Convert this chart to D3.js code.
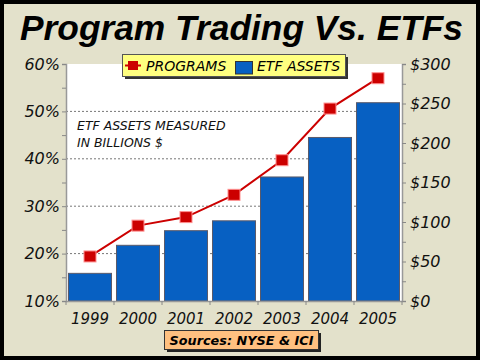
<!DOCTYPE html>
<html><head><meta charset="utf-8">
<script src="https://cdn.jsdelivr.net/npm/d3@7"></script>
<style>html,body{margin:0;padding:0;background:#e3e1cb;}svg{display:block;}</style>
</head><body>
<script>
const years = ["1999","2000","2001","2002","2003","2004","2005"];
const etfAssets = [35, 70.5, 89, 101.5, 157, 207, 251];      // $ billions (right axis)
const programs = [19.4, 25.9, 27.7, 32.4, 39.7, 50.6, 57.0];  // % (left axis)
const leftTicks = [10, 20, 30, 40, 50, 60];
const rightTicks = [0, 50, 100, 150, 200, 250, 300];

const W = 480, H = 360;
const L = 66, R = 402, T = 64, B = 301;
const svg = d3.select("body").append("svg").attr("width", W).attr("height", H);
const font = "'DejaVu Sans', Verdana, sans-serif";

// background and frame
svg.append("rect").attr("x",2).attr("y",2).attr("width",W-4).attr("height",H-4)
  .attr("fill","#e3e1cb").attr("stroke","#000").attr("stroke-width",4);

// title
svg.append("text").attr("x",20).attr("y",40)
  .attr("font-family","'Liberation Sans', Arial, sans-serif").attr("font-weight","bold")
  .attr("font-style","italic").attr("font-size",35)
  .attr("textLength",443).attr("lengthAdjust","spacingAndGlyphs")
  .attr("fill","#000").text("Program Trading Vs. ETFs");

const x = d3.scaleBand().domain(years).range([L, R]).paddingInner(0.104).paddingOuter(0.052);
const yL = d3.scaleLinear().domain([10, 60]).range([B, T]);
const yR = d3.scaleLinear().domain([0, 300]).range([B, T]);

// plot area
svg.append("rect").attr("x",L).attr("y",T).attr("width",R-L).attr("height",B-T).attr("fill","#fff");

// gridlines
svg.append("g").selectAll("line").data(leftTicks.filter(d => d > 10 && d < 60)).join("line")
  .attr("x1",L).attr("x2",R).attr("y1",d=>yL(d)).attr("y2",d=>yL(d))
  .attr("stroke","#777").attr("stroke-width",1).attr("stroke-dasharray","2,2");

// bars
svg.append("g").selectAll("rect").data(years).join("rect")
  .attr("x",d=>x(d)).attr("width",x.bandwidth())
  .attr("y",(d,i)=>yR(etfAssets[i])).attr("height",(d,i)=>B-yR(etfAssets[i]))
  .attr("fill","#0760c2").attr("stroke","#5a5a6a").attr("stroke-width",1);

// axes
const axL = d3.axisLeft(yL).tickValues(d3.range(10, 60.1, 5)).tickSize(4)
  .tickFormat(d => leftTicks.includes(d) ? d + "%" : "");
const gL = svg.append("g").attr("transform",`translate(${L},0)`).call(axL);
const axR = d3.axisRight(yR).tickValues(d3.range(0, 300.1, 25)).tickSize(4)
  .tickFormat(d => rightTicks.includes(d) ? "$" + d : "");
const gR = svg.append("g").attr("transform",`translate(${R},0)`).call(axR);
const axB = d3.axisBottom(x).tickSize(0).tickPadding(12);
const gB = svg.append("g").attr("transform",`translate(0,${B})`).call(axB);
// category boundary ticks
svg.append("g").selectAll("line").data(d3.range(years.length + 1)).join("line")
  .attr("x1",i=>L + i*x.step()).attr("x2",i=>L + i*x.step())
  .attr("y1",B).attr("y2",B+4).attr("stroke","#888");

[gL, gR, gB].forEach(g => {
  g.select(".domain").attr("stroke","#999").attr("stroke-width",1.5);
  g.selectAll(".tick line").attr("stroke","#888");
  g.selectAll("text").attr("font-family",font).attr("font-style","italic").attr("fill","#111");
});
gL.selectAll("text").attr("font-size",16).attr("x",-6);
gR.selectAll("text").attr("font-size",16).attr("x",8);
gB.selectAll("text").attr("font-size",15);

// line + markers
const line = d3.line().x((d,i)=>x(years[i]) + x.bandwidth()/2).y(d=>yL(d));
svg.append("path").datum(programs).attr("d",line)
  .attr("fill","none").attr("stroke","#cc0000").attr("stroke-width",2);
svg.append("g").selectAll("rect").data(programs).join("rect")
  .attr("x",(d,i)=>x(years[i]) + x.bandwidth()/2 - 6).attr("y",d=>yL(d) - 5.5)
  .attr("width",12).attr("height",11)
  .attr("fill","#cc0000").attr("stroke","#ff9090").attr("stroke-width",1);

// annotation
const ann = svg.append("text").attr("font-family",font).attr("font-style","italic")
  .attr("font-size",12.5).attr("fill","#111");
ann.append("tspan").attr("x",77).attr("y",130).text("ETF ASSETS MEASURED");
ann.append("tspan").attr("x",77).attr("y",147).text("IN BILLIONS $");

// legend
const lg = svg.append("g");
lg.append("rect").attr("x",125).attr("y",57).attr("width",223).attr("height",22).attr("fill","#333");
lg.append("rect").attr("x",122.5).attr("y",54.5).attr("width",223).attr("height",22)
  .attr("fill","#ffff80").attr("stroke","#555").attr("stroke-width",1);
lg.append("line").attr("x1",125).attr("x2",141).attr("y1",65.5).attr("y2",65.5)
  .attr("stroke","#cc0000").attr("stroke-width",2);
lg.append("rect").attr("x",128).attr("y",61).attr("width",10).attr("height",9).attr("fill","#cc0000");
lg.append("text").attr("x",146).attr("y",71).attr("font-family",font).attr("font-style","italic")
  .attr("font-size",14).attr("fill","#000").text("PROGRAMS");
lg.append("rect").attr("x",235.5).attr("y",61.5).attr("width",17).attr("height",12.5)
  .attr("fill","#0760c2").attr("stroke","#333").attr("stroke-width",1);
lg.append("text").attr("x",257).attr("y",71).attr("font-family",font).attr("font-style","italic")
  .attr("font-size",14).attr("fill","#000").text("ETF ASSETS");

// source box
const sb = svg.append("g");
sb.append("rect").attr("x",167).attr("y",333).attr("width",154).attr("height",19).attr("fill","#222");
sb.append("rect").attr("x",164.5).attr("y",330.5).attr("width",154).attr("height",19)
  .attr("fill","#ffc080").attr("stroke","#333").attr("stroke-width",1);
sb.append("text").attr("x",241.5).attr("y",345).attr("text-anchor","middle")
  .attr("font-family",font).attr("font-weight","bold").attr("font-style","italic")
  .attr("font-size",13).attr("textLength",144).attr("lengthAdjust","spacingAndGlyphs")
  .attr("fill","#000").text("Sources: NYSE & ICI");
</script>
</body></html>
